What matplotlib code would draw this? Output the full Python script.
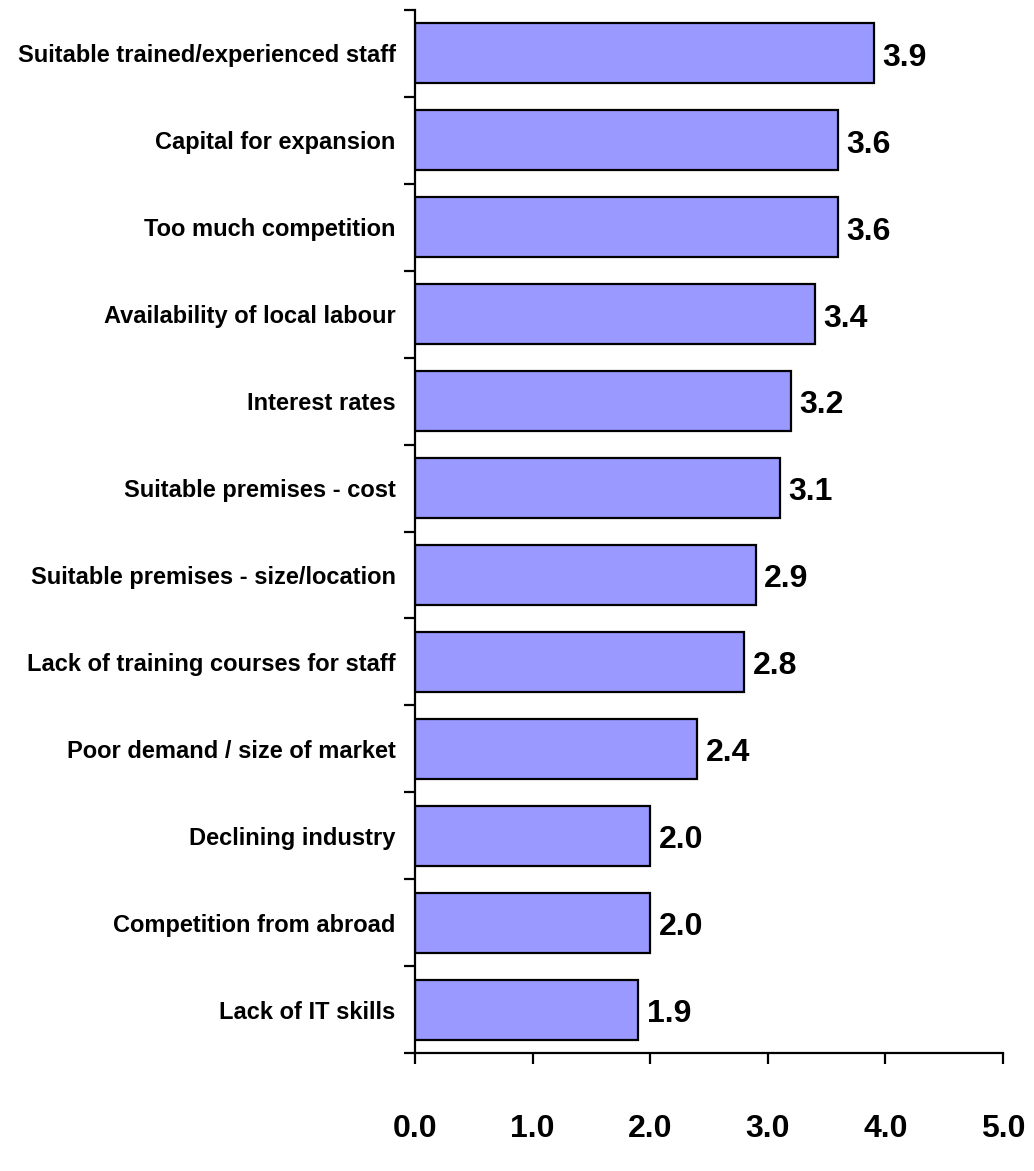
import matplotlib
matplotlib.use("Agg")
import matplotlib.pyplot as plt
import numpy as np

plt.rcParams['font.family'] = ['Liberation Sans', 'DejaVu Sans']
plt.rcParams['font.weight'] = 'bold'

# 数据
categories = [
    "Suitable trained/experienced staff",
    "Capital for expansion",
    "Too much competition",
    "Availability of local labour",
    "Interest rates",
    "Suitable premises - cost",
    "Suitable premises - size/location",
    "Lack of training courses for staff",
    "Poor demand / size of market",
    "Declining industry",
    "Competition from abroad",
    "Lack of IT skills",
]
values = [3.9, 3.6, 3.6, 3.4, 3.2, 3.1, 2.9, 2.8, 2.4, 2.0, 2.0, 1.9]
xticks = [0, 1, 2, 3, 4, 5]

fig = plt.figure(figsize=(10.34, 11.71), dpi=100)
ax = fig.add_axes([415 / 1034, 1 - 1053 / 1171, (1003 - 415) / 1034, (1053 - 10) / 1171])

n = len(categories)
y = np.arange(n)[::-1]  # 第一个在最上面
ax.barh(y, values, height=0.69, color='#9999FF', edgecolor='black', linewidth=1.6)

# 数值标签
for yi, v in zip(y, values):
    ax.text(v + 0.07, yi - 0.05, f"{v:.1f}", va='center', ha='left',
            fontsize=23, fontweight='bold')

ax.set_xlim(0, 5)
ax.set_ylim(-0.5, n - 0.5)

# x轴
ax.set_xticks(xticks)
ax.set_xticklabels([f"{t:.1f}" for t in xticks], fontsize=23, fontweight='bold')
ax.tick_params(axis='x', direction='out', length=8, width=1.6, pad=36)

# y轴: 刻度在类别之间
ax.set_yticks(np.arange(-0.5, n, 1.0))
ax.set_yticklabels([])
ax.set_yticks(y, minor=True)
ax.set_yticklabels(categories, minor=True, fontsize=17, fontweight='bold')
ax.tick_params(axis='y', which='major', direction='out', length=8, width=1.6)
ax.tick_params(axis='y', which='minor', length=0, pad=14)

for s in ['top', 'right']:
    ax.spines[s].set_visible(False)
for s in ['left', 'bottom']:
    ax.spines[s].set_linewidth(1.6)

fig.savefig("out.png", dpi=100)
